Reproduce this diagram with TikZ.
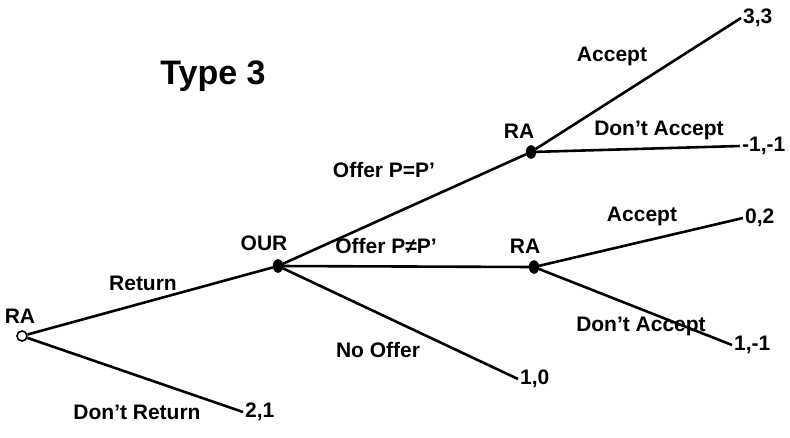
\documentclass[tikz,border=0pt]{standalone}
\usepackage{fontspec}
\setmainfont{Liberation Sans}

\tikzset{
	chance/.style={circle, draw, line width=1.6pt, fill=white, minimum size=10pt, inner sep=0pt},
	decision/.style={ellipse, draw, fill=black, minimum width=10pt, minimum height=13pt, inner sep=0pt},
	payoff/.style={anchor=west, inner sep=2pt, font=\fontsize{21}{21}\selectfont\bfseries},
	lbl/.style={anchor=center, inner sep=1pt, font=\fontsize{21}{21}\selectfont\bfseries},
	branch/.style={line width=2.6pt},
}
\usetikzlibrary{shapes.geometric}

\begin{document}
\begin{tikzpicture}[x=1pt, y=-1pt]
	\useasboundingbox (0, 0) rectangle (790, 437);

	%% decision points
	\node[chance] (ra) at (22, 336) {};
	\node[decision] (our) at (278, 266) {};
	\node[decision] (raeq) at (531, 152) {};
	\node[decision] (rane) at (534, 267) {};

	%% players
	\node[lbl] (lra) at (20, 316) {RA};
	\node[lbl] (lour) at (264, 243) {OUR};
	\node[lbl] (lraeq) at (519, 131) {RA};
	\node[lbl] (lrane) at (525, 246) {RA};

	%% payoffs
	\node[payoff] (p33) at (741, 18) {3,3};
	\node[payoff] (pmm) at (740, 146) {-1,-1};
	\node[payoff] (p02) at (743, 218) {0,2};
	\node[payoff] (p1m) at (732, 345) {1,-1};
	\node[payoff] (p10) at (518, 379) {1,0};
	\node[payoff] (p21) at (243, 412) {2,1};

	%% branches
	\draw[branch] (ra) -- (our);
	\draw[branch] (ra) -- (p21.west);
	\draw[branch] (our) -- (raeq);
	\draw[branch] (our) -- (rane);
	\draw[branch] (our) -- (p10.west);
	\draw[branch] (raeq) -- (p33.west);
	\draw[branch] (raeq) -- (pmm.west);
	\draw[branch] (rane) -- (p02.west);
	\draw[branch] (rane) -- (p1m.west);

	%% actions
	\node[lbl] (ret) at (143, 283) {Return};
	\node[lbl] (dret) at (137, 412) {Don't Return};
	\node[lbl] (noff) at (378, 350) {No Offer};
	\node[lbl] (offeq) at (384, 170) {Offer P=P'};
	\node[lbl] (offne) at (386, 246) {Offer P≠P'};
	\node[lbl] (acceq) at (612, 56) {Accept};
	\node[lbl] (daeq) at (659, 130) {Don't Accept};
	\node[lbl] (accne) at (642, 216) {Accept};
	\node[lbl] (dane) at (641, 326) {Don't Accept};

	%% title
	\node[anchor=center, font=\fontsize{34}{34}\selectfont\bfseries] (title) at (213, 76) {Type 3};
\end{tikzpicture}
\end{document}
